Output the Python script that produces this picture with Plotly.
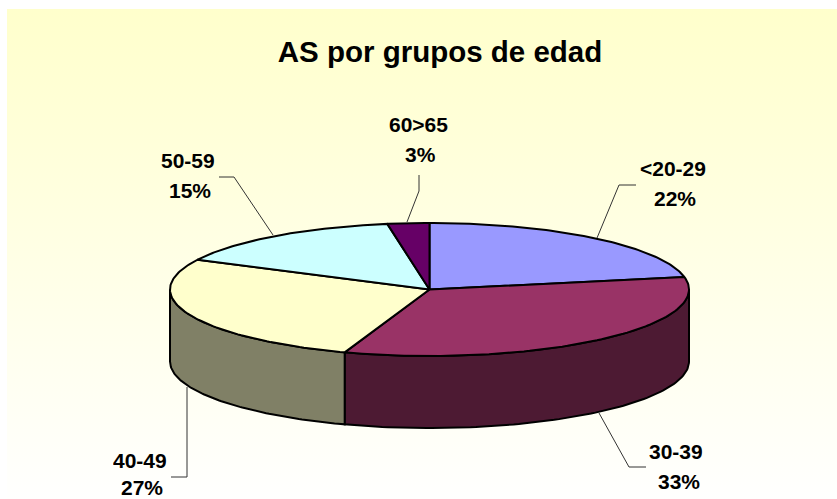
import numpy as np
import plotly.graph_objects as go

# Data
categories = ["<20-29", "30-39", "40-49", "50-59", "60>65"]
values = [22.0, 33.3, 27.1, 15.0, 2.6]
title_text = "AS por grupos de edad"

# Style
top_colors = ["#9999FF", "#993366", "#FFFFCC", "#CCFFFF", "#660066"]
wall_colors = ["#4D1A33", "#4D1A33", "#808066", "#668080", "#330033"]
FONT = "Liberation Sans"
W, H = 837, 499
CX, CY, RX, RY, DEPTH = 429.5, 289.5, 259.5, 66.5, 72

# label positions: (name x, name y, pct x, pct y)
label_pos = [(673, 168, 675, 198), (676, 451, 679, 481), (140, 460, 142, 487),
             (188, 160, 190, 190), (418, 124, 420, 154)]
leaders = [[(636, 185), (619, 185), (597, 238)],
           [(599, 413), (629, 467), (646, 467)],
           [(187, 387), (187, 477), (171, 477)],
           [(273, 235), (234, 177), (219, 177)],
           [(407, 222), (419, 191), (419, 175)]]


def ell(t):
    return CX + RX * np.sin(t), CY - RY * np.cos(t)


fig = go.Figure()

# Gradient backdrop
fig.add_trace(go.Scatter(
    x=[7, W, W, 7, 7], y=[9, 9, H, H, 9], mode="lines", line=dict(width=0),
    fill="toself",
    fillgradient=dict(type="vertical", colorscale=[[0, "#FFFFFE"], [1, "#FFFFCC"]]),
    hoverinfo="skip", showlegend=False))

total = sum(values)
edges = np.concatenate([[0], np.cumsum(values)]) / total * 2 * np.pi

# Outer walls: only the part of each slice on the front half
for i, cat in enumerate(categories):
    a = max(edges[i], np.pi / 2)
    b = min(edges[i + 1], 3 * np.pi / 2)
    if b <= a:
        continue
    t = np.linspace(a, b, 90)
    x, y = ell(t)
    xs = np.concatenate([x, x[::-1], x[:1]])
    ys = np.concatenate([y, y[::-1] + DEPTH, y[:1]])
    fig.add_trace(go.Scatter(x=xs, y=ys, mode="lines", fill="toself",
                             fillcolor=wall_colors[i],
                             line=dict(color="black", width=2),
                             name=cat, hoverinfo="skip", showlegend=False))

# Top faces
for i, cat in enumerate(categories):
    t = np.linspace(edges[i], edges[i + 1], 90)
    x, y = ell(t)
    xs = np.concatenate([[CX], x, [CX]])
    ys = np.concatenate([[CY], y, [CY]])
    fig.add_trace(go.Scatter(x=xs, y=ys, mode="lines", fill="toself",
                             fillcolor=top_colors[i],
                             line=dict(color="black", width=2),
                             name=cat, hoverinfo="skip", showlegend=False))

# Leader lines
shapes = []
for pts in leaders:
    path = "M " + " L ".join(f"{px},{py}" for px, py in pts)
    shapes.append(dict(type="path", path=path, xref="x", yref="y",
                       line=dict(color="#333333", width=1)))

# Labels
annotations = []
lab_font = dict(family=FONT, size=21, color="black", weight=700)
for cat, val, (nx, ny, px, py) in zip(categories, values, label_pos):
    annotations.append(dict(x=nx, y=ny, xref="x", yref="y", text=cat.replace("<", "&lt;").replace(">", "&gt;"),
                            showarrow=False, font=lab_font, height=22,
                            xanchor="center", yanchor="middle"))
    annotations.append(dict(x=px, y=py, xref="x", yref="y",
                            text=f"{round(val / total * 100)}%",
                            showarrow=False, font=lab_font, height=22,
                            xanchor="center", yanchor="middle"))

fig.update_layout(
    width=W, height=H, margin=dict(l=0, r=0, t=0, b=0),
    paper_bgcolor="white", plot_bgcolor="rgba(0,0,0,0)",
    xaxis=dict(range=[0, W], visible=False, fixedrange=True),
    yaxis=dict(range=[H, 0], visible=False, fixedrange=True),
    title=dict(text=title_text, x=440 / W, y=1 - 52 / H, xanchor="center", yanchor="middle",
               font=dict(family=FONT, size=29.5, color="black", weight=700)),
    shapes=shapes, annotations=annotations, showlegend=False)

fig.write_html("out.html", config=dict(displayModeBar=False),
               post_script="document.body.style.margin='0';document.body.style.overflow='hidden';")
